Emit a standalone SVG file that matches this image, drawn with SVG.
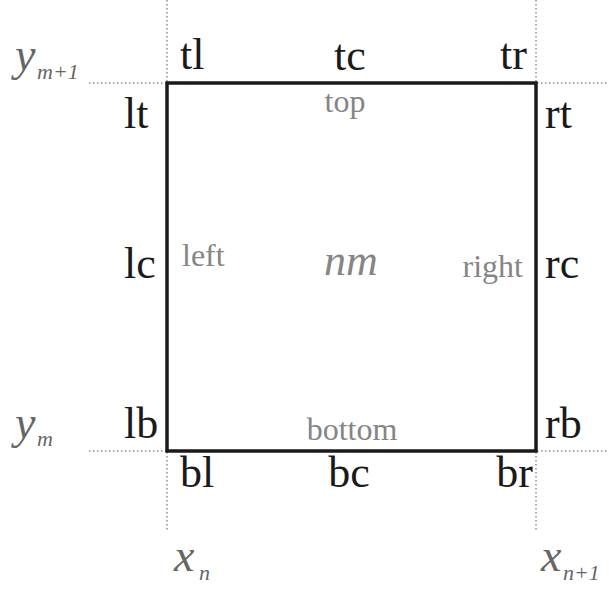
<svg xmlns="http://www.w3.org/2000/svg" width="609" height="590" viewBox="0 0 609 590">
<style>
.lbl{font-family:"Liberation Serif","Times New Roman",serif;font-size:44px;fill:#1a1a1a}
.side{font-family:"Liberation Serif","Times New Roman",serif;font-size:32px;fill:#858585}
.ax{font-family:"Liberation Serif","Times New Roman",serif;font-style:italic;font-size:46px;fill:#666}
.sub{font-size:22px}
.grid{stroke:#555;stroke-width:1;stroke-dasharray:1.5 2.5;fill:none}
</style>
<rect width="609" height="590" fill="#fff"/>
<g id="gridlines">
<line class="grid" x1="167" y1="0" x2="167" y2="530"/>
<line class="grid" x1="536" y1="0" x2="536" y2="530"/>
<line class="grid" x1="89" y1="83" x2="609" y2="83"/>
<line class="grid" x1="89" y1="451" x2="609" y2="451"/>
</g>
<g id="cell">
<rect x="167" y="83" width="369" height="368" fill="none" stroke="#1a1a1a" stroke-width="3.5"/>
<text class="side" x="345" y="112" text-anchor="middle">top</text>
<text class="side" x="182" y="266">left</text>
<text class="side" x="523" y="277" text-anchor="end">right</text>
<text class="side" x="352" y="440" text-anchor="middle">bottom</text>
<text x="351" y="275" text-anchor="middle" style="font-family:'Liberation Serif','Times New Roman',serif;font-style:italic;font-size:44px;fill:#858585">nm</text>
</g>
<g id="labels">
<text class="lbl" x="180" y="69">tl</text>
<text class="lbl" x="350" y="70" text-anchor="middle">tc</text>
<text class="lbl" x="527" y="69" text-anchor="end">tr</text>
<text class="lbl" x="124" y="128">lt</text>
<text class="lbl" x="545" y="128">rt</text>
<text class="lbl" x="124" y="278">lc</text>
<text class="lbl" x="545" y="278">rc</text>
<text class="lbl" x="124" y="438">lb</text>
<text class="lbl" x="545" y="438">rb</text>
<text class="lbl" x="180" y="487">bl</text>
<text class="lbl" x="349" y="487" text-anchor="middle">bc</text>
<text class="lbl" x="533" y="487" text-anchor="end">br</text>
</g>
<g id="axes">
<text class="ax" x="15" y="70">y<tspan class="sub" x="37" y="79">m+1</tspan></text>
<text class="ax" x="15" y="438">y<tspan class="sub" x="37" y="446">m</tspan></text>
<text class="ax" x="174" y="571">x<tspan class="sub" x="199" y="580">n</tspan></text>
<text class="ax" x="541" y="571">x<tspan class="sub" x="563" y="580">n+1</tspan></text>
</g>
</svg>
